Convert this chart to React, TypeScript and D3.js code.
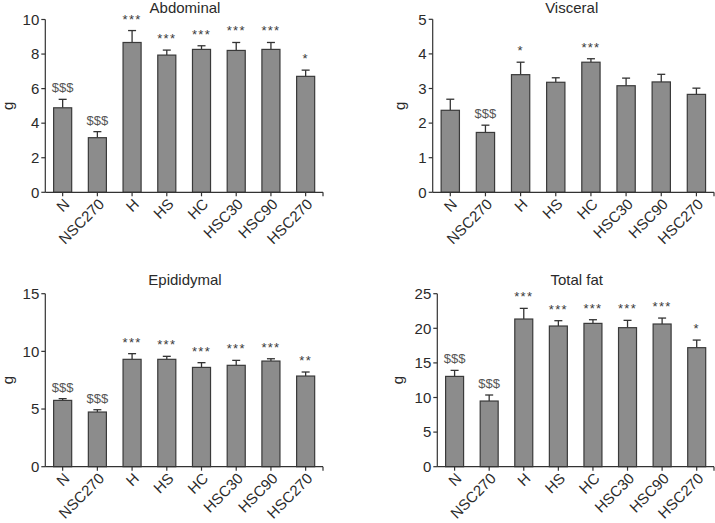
import React from 'react';
import { scaleBand, scaleLinear } from 'd3';

const groups = ['N', 'NSC270', 'H', 'HS', 'HC', 'HSC30', 'HSC90', 'HSC270'];

// Abdominal fat (g)
const abdominalMean = [4.89, 3.16, 8.67, 7.94, 8.27, 8.21, 8.27, 6.71];
const abdominalErr = [0.49, 0.35, 0.69, 0.29, 0.21, 0.46, 0.4, 0.36];
const abdominalSig = ['$$$', '$$$', '***', '***', '***', '***', '***', '*'];

// Visceral fat (g)
const visceralMean = [2.37, 1.73, 3.4, 3.18, 3.76, 3.08, 3.19, 2.83];
const visceralErr = [0.32, 0.21, 0.36, 0.13, 0.1, 0.22, 0.22, 0.18];
const visceralSig = ['', '$$$', '*', '', '***', '', '', ''];

// Epididymal fat (g)
const epididymalMean = [5.75, 4.74, 9.31, 9.31, 8.61, 8.79, 9.16, 7.86];
const epididymalErr = [0.15, 0.2, 0.49, 0.26, 0.41, 0.43, 0.2, 0.35];
const epididymalSig = ['$$$', '$$$', '***', '***', '***', '***', '***', '**'];

// Total fat (g)
const totalMean = [13.05, 9.49, 21.34, 20.33, 20.71, 20.09, 20.62, 17.2];
const totalErr = [0.87, 0.87, 1.54, 0.77, 0.53, 1.06, 0.86, 1.1];
const totalSig = ['$$$', '$$$', '***', '***', '***', '***', '***', '*'];

const abdominalTicks = [0, 2, 4, 6, 8, 10];
const visceralTicks = [0, 1, 2, 3, 4, 5];
const epididymalTicks = [0, 5, 10, 15];
const totalTicks = [0, 5, 10, 15, 20, 25];

const FONT = '"Liberation Sans", Arial, sans-serif';

type PanelProps = {
  title: string;
  mean: number[];
  err: number[];
  sig: string[];
  ticks: number[];
  left: number;
  right: number;
  top: number;
  bottom: number;
  titleX: number;
  titleY: number;
  labelX: number;
};

function Panel(p: PanelProps) {
  const x = scaleBand<string>().domain(groups).range([p.left, p.right]).paddingInner(0.48).paddingOuter(0.24);
  const y = scaleLinear().domain([0, p.ticks[p.ticks.length - 1]]).range([p.bottom, p.top]);
  const bw = x.bandwidth();
  const midY = (p.top + p.bottom) / 2;

  return (
    <g>
      <text x={p.titleX} y={p.titleY} textAnchor="middle" fontSize={15} fill="#2a2a2a">{p.title}</text>
      <text transform={`translate(${p.labelX},${midY}) rotate(-90)`} textAnchor="middle" dy="0.35em" fontSize={15} fill="#2a2a2a">g</text>

      {groups.map((g, i) => {
        const x0 = x(g) as number;
        const cx = x0 + bw / 2;
        const top = y(p.mean[i] + p.err[i]);
        return (
          <g key={g}>
            <line x1={cx} x2={cx} y1={y(p.mean[i])} y2={top} stroke="#333" strokeWidth={1.3} />
            <line x1={cx - 4} x2={cx + 4} y1={top} y2={top} stroke="#333" strokeWidth={1.3} />
            <rect x={x0} y={y(p.mean[i])} width={bw} height={p.bottom - y(p.mean[i])} fill="#8c8c8c" stroke="#3a3a3a" strokeWidth={1.2} />
            {p.sig[i] && (
              <text x={cx} y={top - 7} textAnchor="middle" fontSize={13}
                fill={p.sig[i][0] === '$' ? '#555' : '#3a3a3a'}
                letterSpacing={p.sig[i][0] === '*' ? 1.3 : 0}>
                {p.sig[i]}
              </text>
            )}
            <line x1={cx} x2={cx} y1={p.bottom} y2={p.bottom + 4} stroke="#333" strokeWidth={1.2} />
            <text transform={`translate(${cx + 4},${p.bottom + 9}) rotate(-45)`} textAnchor="end" dy="0.35em" fontSize={15} fill="#2a2a2a">{g}</text>
          </g>
        );
      })}

      {/* y axis */}
      <line x1={p.left} x2={p.left} y1={p.top} y2={p.bottom} stroke="#333" strokeWidth={1.2} />
      {p.ticks.map((t) => (
        <g key={t}>
          <line x1={p.left - 4} x2={p.left} y1={y(t)} y2={y(t)} stroke="#333" strokeWidth={1.2} />
          <text x={p.left - 6} y={y(t)} dy="0.35em" textAnchor="end" fontSize={15} fill="#2a2a2a">{t}</text>
        </g>
      ))}
      {/* x axis */}
      <line x1={p.left} x2={p.right} y1={p.bottom} y2={p.bottom} stroke="#333" strokeWidth={1.2} />
      <line x1={p.right} x2={p.right} y1={p.bottom} y2={p.bottom + 4} stroke="#333" strokeWidth={1.2} />
    </g>
  );
}

export default function App() {
  return (
    <svg width={715} height={523} style={{ position: 'absolute', left: 0, top: 0, fontFamily: FONT }}>
      <rect width={715} height={523} fill="#fff" />
      <Panel title="Abdominal" mean={abdominalMean} err={abdominalErr} sig={abdominalSig} ticks={abdominalTicks}
        left={45.3} right={323} top={19.5} bottom={192.3} titleX={185} titleY={12.5} labelX={7.5} />
      <Panel title="Visceral" mean={visceralMean} err={visceralErr} sig={visceralSig} ticks={visceralTicks}
        left={432.7} right={714} top={19.3} bottom={192.3} titleX={571.7} titleY={12.5} labelX={400} />
      <Panel title="Epididymal" mean={epididymalMean} err={epididymalErr} sig={epididymalSig} ticks={epididymalTicks}
        left={45.3} right={323} top={293.7} bottom={466.7} titleX={185} titleY={285} labelX={7.5} />
      <Panel title="Total fat" mean={totalMean} err={totalErr} sig={totalSig} ticks={totalTicks}
        left={437.3} right={714} top={293.7} bottom={466.7} titleX={576.7} titleY={285} labelX={398} />
    </svg>
  );
}
